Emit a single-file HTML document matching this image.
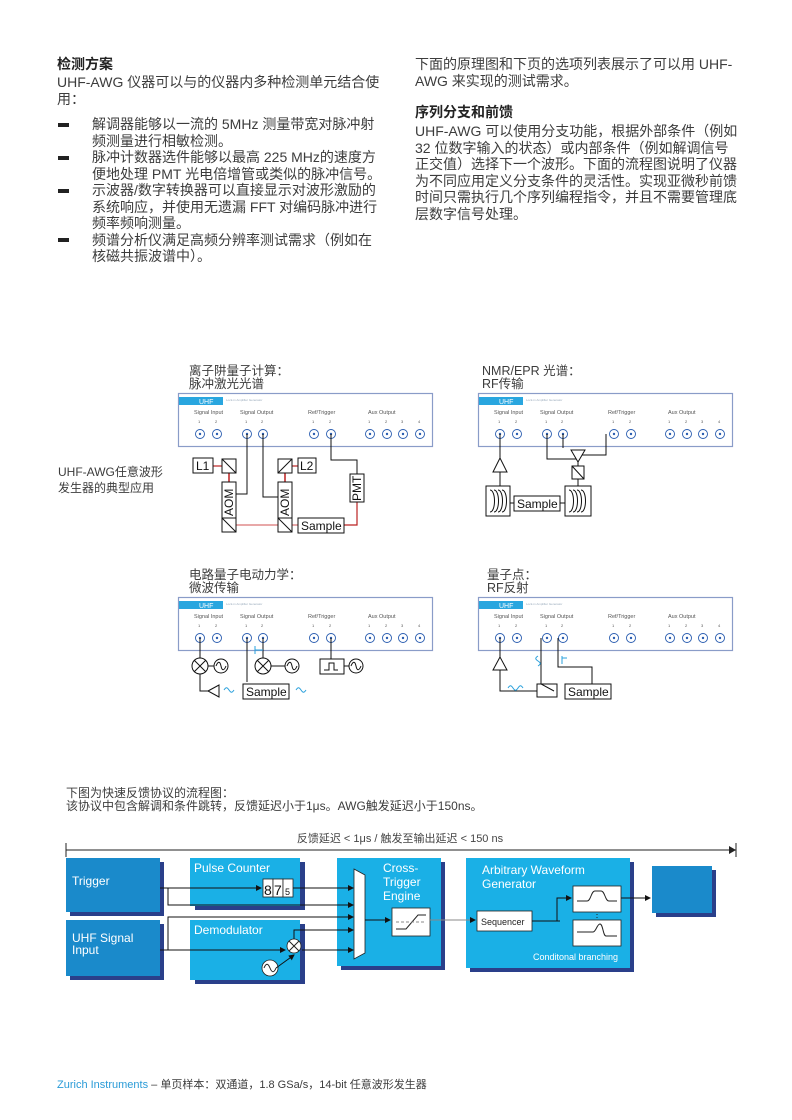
<!DOCTYPE html>
<html><head><meta charset="utf-8"><style>
body{margin:0;background:#fff;}
.pg{position:relative;width:792px;height:1120px;overflow:hidden;font-family:"Liberation Sans","Noto Sans CJK SC",sans-serif;color:#3c3c3c;}
.t{position:absolute;font-size:14px;line-height:16.5px;}
.h{font-weight:bold;color:#222;}
.bl{position:absolute;width:11px;height:4px;background:#222;}
svg{position:absolute;left:0;top:0;}
</style></head><body><div class="pg">
<div class="t h" style="left:57px;top:56px;">检测方案</div>
<div class="t" style="left:57px;top:74px;width:340px;">UHF-AWG 仪器可以与的仪器内多种检测单元结合使<br>用：</div>
<div class="bl" style="left:58px;top:123px"></div>
<div class="bl" style="left:58px;top:156px"></div>
<div class="bl" style="left:58px;top:189px"></div>
<div class="bl" style="left:58px;top:238px"></div>
<div class="t" style="left:92px;top:116px;width:310px;">解调器能够以一流的 5MHz 测量带宽对脉冲射<br>频测量进行相敏检测。<br>脉冲计数器选件能够以最高 225 MHz的速度方<br>便地处理 PMT 光电倍增管或类似的脉冲信号。<br>示波器/数字转换器可以直接显示对波形激励的<br>系统响应，并使用无遗漏 FFT 对编码脉冲进行<br>频率频响测量。<br>频谱分析仪满足高频分辨率测试需求（例如在<br>核磁共振波谱中）。</div>
<div class="t" style="left:415px;top:56px;width:340px;">下面的原理图和下页的选项列表展示了可以用 UHF-<br>AWG 来实现的测试需求。</div>
<div class="t h" style="left:415px;top:104px;">序列分支和前馈</div>
<div class="t" style="left:415px;top:123px;width:340px;">UHF-AWG 可以使用分支功能，根据外部条件（例如<br>32 位数字输入的状态）或内部条件（例如解调信号<br>正交值）选择下一个波形。下面的流程图说明了仪器<br>为不同应用定义分支条件的灵活性。实现亚微秒前馈<br>时间只需执行几个序列编程指令，并且不需要管理底<br>层数字信号处理。</div>
<div class="t" style="left:58px;top:464px;font-size:12px;line-height:16px;">UHF-AWG任意波形<br>发生器的典型应用</div>
<div class="t" style="left:189px;top:365px;font-size:12.5px;line-height:13px;">离子阱量子计算：<br>脉冲激光光谱</div>
<div class="t" style="left:482px;top:365px;font-size:12.5px;line-height:13px;">NMR/EPR 光谱：<br>RF传输</div>
<div class="t" style="left:189px;top:569px;font-size:12.5px;line-height:13px;">电路量子电动力学：<br>微波传输</div>
<div class="t" style="left:487px;top:569px;font-size:12.5px;line-height:13px;">量子点：<br>RF反射</div>
<div class="t" style="left:66px;top:787px;font-size:12px;line-height:13px;">下图为快速反馈协议的流程图：<br>该协议中包含解调和条件跳转，反馈延迟小于1μs。AWG触发延迟小于150ns。</div>
<div class="t" style="left:57px;top:1077px;font-size:11px;"><span style="color:#2a9bd7">Zurich Instruments</span> – 单页样本：双通道，1.8 GSa/s，14-bit 任意波形发生器</div>

<svg width="792" height="1120" viewBox="0 0 792 1120" font-family="Liberation Sans, Noto Sans CJK SC, sans-serif">
<defs>
<g id="panel">
<rect x="0.5" y="0.5" width="254" height="53" fill="#fff" stroke="#8a9cc8" stroke-width="1.2"/>
<rect x="1" y="4" width="44" height="8" fill="#29a6df"/>
<text x="21" y="11" font-size="7" fill="#fff">UHF</text>
<text x="48" y="8" font-size="3" fill="#9ab">Lock-in Amplifier Generator</text>
<g font-size="5.5" fill="#555">
<text x="16" y="21">Signal Input</text><text x="62" y="21">Signal Output</text>
<text x="130" y="21">Ref/Trigger</text><text x="190" y="21">Aux Output</text>
</g>
<g font-size="4" fill="#555"><text x="20" y="30">1</text><text x="37" y="30">2</text><text x="67" y="30">1</text><text x="83" y="30">2</text><text x="134" y="30">1</text><text x="151" y="30">2</text><text x="190" y="30">1</text><text x="207" y="30">2</text><text x="223" y="30">3</text><text x="240" y="30">4</text></g>
<g fill="none" stroke="#2a5db0" stroke-width="0.9">
<circle cx="22" cy="41" r="4.5"/><circle cx="39" cy="41" r="4.5"/>
<circle cx="69" cy="41" r="4.5"/><circle cx="85" cy="41" r="4.5"/>
<circle cx="136" cy="41" r="4.5"/><circle cx="153" cy="41" r="4.5"/>
<circle cx="192" cy="41" r="4.5"/><circle cx="209" cy="41" r="4.5"/><circle cx="225" cy="41" r="4.5"/><circle cx="242" cy="41" r="4.5"/>
</g>
<g fill="#2a5db0"><circle cx="22" cy="41" r="1.2"/><circle cx="39" cy="41" r="1.2"/><circle cx="69" cy="41" r="1.2"/><circle cx="85" cy="41" r="1.2"/><circle cx="136" cy="41" r="1.2"/><circle cx="153" cy="41" r="1.2"/><circle cx="192" cy="41" r="1.2"/><circle cx="209" cy="41" r="1.2"/><circle cx="225" cy="41" r="1.2"/><circle cx="242" cy="41" r="1.2"/></g>
</g>
<marker id="ar" markerWidth="6" markerHeight="6" refX="5" refY="3" orient="auto"><path d="M0,0L6,3L0,6z" fill="#111"/></marker>
</defs>

<use href="#panel" x="178" y="393"/>
<g stroke="#e8a8a8" stroke-width="2" fill="none">
<line x1="229" y1="473" x2="229" y2="518"/><line x1="236" y1="525" x2="278" y2="525"/>
<line x1="285" y1="473" x2="285" y2="518"/><line x1="292" y1="525" x2="298" y2="525"/>
</g>
<g stroke="#b22" stroke-width="1.2" fill="none">
<line x1="213" y1="466" x2="222" y2="466"/><line x1="292" y1="466" x2="298" y2="466"/>
<polyline points="344,525 357,525 357,502"/>
<line x1="229" y1="473" x2="229" y2="482"/><line x1="285" y1="473" x2="285" y2="482"/>
</g>
<g stroke="#111" stroke-width="1" fill="#fff">
<rect x="193" y="458" width="20" height="15"/><rect x="222" y="459" width="14" height="14"/><line x1="222" y1="459" x2="236" y2="473"/>
<rect x="278" y="459" width="14" height="14"/><line x1="278" y1="473" x2="292" y2="459"/>
<rect x="298" y="458" width="18" height="15"/>
<rect x="222" y="482" width="14" height="38"/><rect x="278" y="482" width="14" height="38"/>
<rect x="222" y="518" width="14" height="14"/><line x1="222" y1="518" x2="236" y2="532"/>
<rect x="278" y="518" width="14" height="14"/><line x1="278" y1="518" x2="292" y2="532"/>
<rect x="298" y="518" width="46" height="15"/><rect x="350" y="474" width="14" height="28"/>
</g>
<g stroke="#111" stroke-width="1" fill="none">
<polyline points="247,434 247,494 236,494"/><polyline points="263,434 263,497 278,497"/>
<polyline points="331,434 331,460 357,460 357,474"/>
</g>
<g font-size="12" fill="#111">
<text x="196" y="470">L1</text><text x="300" y="470">L2</text><text x="301" y="530">Sample</text>
<text transform="translate(233,516) rotate(-90)">AOM</text><text transform="translate(289,516) rotate(-90)">AOM</text><text transform="translate(361,501) rotate(-90)">PMT</text>
</g>

<use href="#panel" x="478" y="393"/>
<g stroke="#111" stroke-width="1" fill="none">
<line x1="500" y1="434" x2="500" y2="458"/><line x1="500" y1="472" x2="500" y2="486"/>
<polygon points="500,458 493,472 507,472" fill="#fff"/>
<rect x="486" y="486" width="24" height="30"/>
<path d="M490,490c6,0 6,22 0,22M494,490c6,0 6,22 0,22M498,490c6,0 6,22 0,22M502,490c6,0 6,22 0,22"/>
<rect x="514" y="496" width="46" height="15" fill="#fff"/>
<polyline points="547,434 547,459 578,459 578,466"/><polyline points="563,434 563,448"/>
<polyline points="606,434 606,455 582,455"/>
<polygon points="571,450 585,450 578,462" fill="#fff"/>
<rect x="572" y="466" width="12" height="13"/><line x1="572" y1="466" x2="584" y2="479"/>
<line x1="578" y1="479" x2="578" y2="486"/>
<rect x="565" y="486" width="26" height="30"/>
<path d="M569,490c6,0 6,22 0,22M573,490c6,0 6,22 0,22M577,490c6,0 6,22 0,22M581,490c6,0 6,22 0,22"/>
<line x1="560" y1="503" x2="565" y2="503"/><line x1="510" y1="503" x2="514" y2="503"/>
</g>
<text x="517" y="508" font-size="12" fill="#111">Sample</text>

<use href="#panel" x="178" y="597"/>
<g stroke="#111" stroke-width="1" fill="none">
<line x1="200" y1="638" x2="200" y2="658"/><line x1="247" y1="638" x2="247" y2="682"/><line x1="263" y1="638" x2="263" y2="658"/>
<line x1="331" y1="638" x2="331" y2="659"/>
<circle cx="200" cy="666" r="8"/><path d="M194,660l12,12M206,660l-12,12"/>
<circle cx="221" cy="666" r="7"/><path d="M216,666c2,-5 4,-5 5,0s3,5 5,0"/>
<circle cx="263" cy="666" r="8"/><path d="M257,660l12,12M269,660l-12,12"/>
<circle cx="292" cy="666" r="7"/><path d="M287,666c2,-5 4,-5 5,0s3,5 5,0"/>
<circle cx="356" cy="666" r="7"/><path d="M351,666c2,-5 4,-5 5,0s3,5 5,0"/>
<rect x="320" y="659" width="24" height="15"/><path d="M324,670h5v-7h5v7h4"/>
<line x1="208" y1="666" x2="214" y2="666"/><line x1="271" y1="666" x2="285" y2="666"/><line x1="344" y1="666" x2="349" y2="666"/>
<polyline points="200,674 200,691 219,691"/><polygon points="208,691 219,685 219,697" fill="#fff"/>
<rect x="243" y="684" width="46" height="15" fill="#fff"/>
</g>
<text x="246" y="696" font-size="12" fill="#111">Sample</text>
<g stroke="#2aa0dc" stroke-width="1" fill="none"><path d="M224,690c2,-3 3,-3 5,0s3,3 5,0"/><path d="M296,690c2,-3 3,-3 5,0s3,3 5,0"/><path d="M255,646v8M255,650h8"/></g>

<use href="#panel" x="478" y="597"/>
<g stroke="#111" stroke-width="1" fill="none">
<line x1="500" y1="638" x2="500" y2="657"/><polygon points="500,657 493,670 507,670" fill="#fff"/>
<polyline points="500,670 500,691 537,691"/>
<polyline points="541,638 541,684 554,691"/>
<polyline points="558,638 558,667 592,667 592,684"/>
<rect x="537" y="684" width="20" height="13"/>
<rect x="565" y="684" width="46" height="15" fill="#fff"/>
</g>
<text x="568" y="696" font-size="12" fill="#111">Sample</text>
<g stroke="#2aa0dc" stroke-width="1" fill="none"><path d="M508,688c2,-3 3,-3 5,0s3,3 5,0s3,-3 5,0"/><path d="M538,656c-3,2 -3,3 0,5s3,3 0,5"/><path d="M562,656v8M562,658h5"/></g>

<text x="400" y="842" font-size="11" fill="#444" text-anchor="middle">反馈延迟 &lt; 1μs / 触发至输出延迟 &lt; 150 ns</text>
<g stroke="#222" stroke-width="1"><line x1="66" y1="850" x2="736" y2="850"/><line x1="66" y1="843" x2="66" y2="857"/><line x1="736" y1="843" x2="736" y2="857"/></g>
<polygon points="729,846 736,850 729,854" fill="#222"/>
<g fill="#2a3f8a">
<rect x="70" y="862" width="94" height="54"/><rect x="70" y="924" width="94" height="56"/>
<rect x="195" y="862" width="110" height="48"/><rect x="195" y="924" width="110" height="60"/>
<rect x="341" y="862" width="104" height="108"/><rect x="470" y="862" width="164" height="110"/>
<rect x="656" y="870" width="60" height="47"/>
</g>
<g fill="#1ab0e6">
<rect x="66" y="858" width="94" height="54" fill="#1a8acb"/><rect x="66" y="920" width="94" height="56" fill="#1a8acb"/>
<rect x="190" y="858" width="110" height="48"/><rect x="190" y="920" width="110" height="60"/>
<rect x="337" y="858" width="104" height="108"/><rect x="466" y="858" width="164" height="110"/>
<rect x="652" y="866" width="60" height="47" fill="#1a8acb"/>
</g>
<g fill="#fff" font-size="12">
<text x="72" y="885">Trigger</text><text x="72" y="942">UHF Signal</text><text x="72" y="954">Input</text>
<text x="194" y="872">Pulse Counter</text><text x="194" y="934">Demodulator</text>
<text x="383" y="872">Cross-</text><text x="383" y="886">Trigger</text><text x="383" y="900">Engine</text>
<text x="482" y="874">Arbitrary Waveform</text><text x="482" y="888">Generator</text>
<text x="533" y="960" font-size="9">Conditonal branching</text>
</g>
<g fill="#fff" stroke="#222" stroke-width="0.8">
<rect x="263" y="879" width="10" height="18"/><rect x="273" y="879" width="10" height="18"/><rect x="283" y="879" width="10" height="18"/>
<polygon points="354,869 365,875 365,953 354,959"/>
<rect x="392" y="908" width="38" height="28"/>
<rect x="477" y="911" width="55" height="20"/>
<rect x="573" y="886" width="48" height="26"/><rect x="573" y="920" width="48" height="26"/>
<circle cx="294" cy="946" r="7"/><circle cx="270" cy="968" r="8"/>
</g>
<g font-size="14" fill="#111"><text x="264" y="895">8</text><text x="274" y="895">7</text><text x="285" y="895" font-size="9">5</text></g>
<text x="481" y="925" font-size="9" fill="#222">Sequencer</text>
<g fill="none" stroke="#222" stroke-width="1">
<path d="M289,941l10,10M299,941l-10,10"/><path d="M264,968c2,-5 4,-5 6,0s4,5 6,0"/>
<path d="M396,929h10l12,-14h8"/><path d="M396,922h28" stroke-dasharray="3,2" stroke="#888"/>
<path d="M577,901h10c4,0 4,-10 8,-10h6c4,0 4,10 8,10h8"/>
<path d="M577,932h16c3,0 4,-8 7,-8s3,12 6,12h11"/>
<path d="M597,914v4" stroke-dasharray="1,2"/>
</g>
<g stroke="#111" stroke-width="1" fill="none" marker-end="url(#ar)">
<line x1="160" y1="888" x2="261" y2="888"/><line x1="293" y1="888" x2="353" y2="888"/>
<polyline points="168,888 168,905 353,905"/>
<polyline points="168,950 168,917 353,917"/>
<line x1="160" y1="950" x2="285" y2="950"/>
<polyline points="294,939 294,930 353,930"/>
<line x1="302" y1="950" x2="353" y2="950"/>
<line x1="365" y1="920" x2="390" y2="920"/>
<line x1="276" y1="968" x2="294" y2="955"/>
<line x1="532" y1="921" x2="560" y2="921" marker-end="none"/><polyline points="557,921 557,898 571,898"/>
<line x1="621" y1="898" x2="650" y2="898"/>
</g>
<line x1="430" y1="920" x2="475" y2="920" stroke="#888" stroke-width="1" marker-end="url(#ar)"/>
</svg>
</div></body></html>
